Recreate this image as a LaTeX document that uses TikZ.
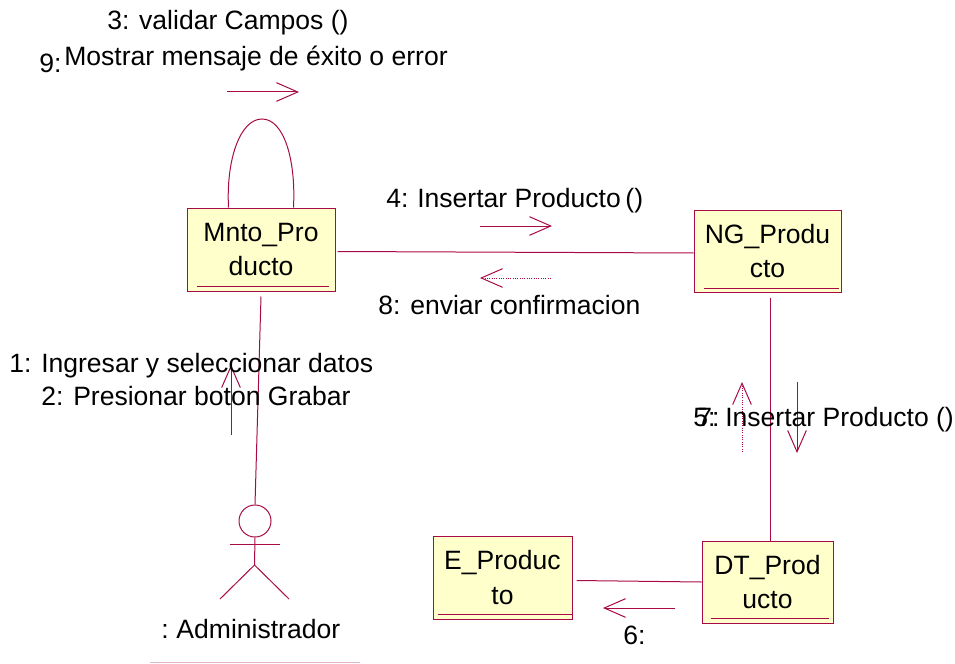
\documentclass[tikz,border=0pt]{standalone}
\usepackage{fontspec}
\setmainfont{Liberation Sans}
\usetikzlibrary{arrows.meta,calc}
\definecolor{umlline}{HTML}{A80A45}
\definecolor{umlfill}{HTML}{FFFFCB}
\tikzset{
  umlobj/.style={draw=umlline,fill=umlfill,line width=0.75pt,inner sep=0pt,align=center,
    font=\fontsize{19.9}{26}\selectfont},
  lbl/.style={anchor=base west,inner sep=0pt,font=\fontsize{19.9}{24}\selectfont},
  link/.style={draw=umlline,line width=0.75pt},
  msg/.style={draw=umlline,line width=0.75pt,-{Straight Barb[length=16pt,width=14pt,line width=0.75pt]}},
  ret/.style={msg,densely dotted},
}
\begin{document}
\begin{tikzpicture}[x=0.75pt,y=-0.75pt]
  \useasboundingbox (0,0) rectangle (955,663);
  %objects
  \node [umlobj,minimum width=111pt,minimum height=62.25pt] (mnto) at (261,249.5) {Mnto\_Pro\hspace{3pt}\\ducto\hspace{3pt}};
  \node [umlobj,minimum width=110.25pt,minimum height=61.5pt] (ng) at (767.5,251) {NG\_Produ\\cto};
  \node [umlobj,minimum width=98.25pt,minimum height=61.5pt] (dt) at (767.5,582) {DT\_Prod\\ucto};
  \node [umlobj,minimum width=104.25pt,minimum height=62.25pt] (ent) at (502.5,577.5) {E\_Produc\hspace{3pt}\\to};
  %underlines
  \draw [link] ($(mnto.south west)+(10,-5)$) -- ($(mnto.south east)+(-7,-5)$);
  \draw [link] ($(ng.south west)+(10,-4)$) -- ($(ng.south east)+(-3,-4)$);
  \draw [link] ($(dt.south west)+(9,-5)$) -- ($(dt.south east)+(-5,-5)$);
  \draw [link] ($(ent.south west)+(5,-5)$) -- ($(ent.south east)+(0,-5)$);
  %actor
  \node [draw=umlline,line width=0.75pt,circle,inner sep=0pt,minimum size=24pt] (head) at (255,521) {};
  \coordinate (hip) at (254.5,565);
  \coordinate (neck) at (254.5,544);
  \coordinate (handl) at (229.5,544);
  \coordinate (handr) at (279.5,544);
  \coordinate (footl) at (220,599);
  \coordinate (footr) at (289,599);
  \draw [link] (head.south) -- (hip) -- (footl);
  \draw [link] (hip) -- (footr);
  \draw [link] (handl) -- (handr);
  %links
  \draw [link] ($(mnto.south)+(0,5)$) -- (head.north);
  \draw [link] ($(mnto.east)+(2,2)$) -- ($(ng.west)+(0,2)$);
  \draw [link] ($(ng.south)+(3,5)$) -- ($(dt.north)+(3,0)$);
  \draw [link] (dt.west) -- ($(ent.east)+(4,3)$);
  \draw [link] ($(mnto.north west)+(42,0)$) .. controls (226,160) and (240,119) .. (262,119)
    .. controls (284,119) and (296,160) .. ($(mnto.north east)+(-42,0)$);
  %messages
  \coordinate (m1a) at (227,92);
  \coordinate (m1b) at (299,92);
  \coordinate (m2a) at (480,226);
  \coordinate (m2b) at (552,226);
  \coordinate (m3a) at (551,278);
  \coordinate (m3b) at (480,278);
  \coordinate (m4a) at (231,435);
  \coordinate (m4b) at (231,365);
  \coordinate (m5a) at (742,452);
  \coordinate (m5b) at (742,382);
  \coordinate (m6a) at (797,382);
  \coordinate (m6b) at (797,453);
  \coordinate (m7a) at (675,608);
  \coordinate (m7b) at (603,608);
  \draw [msg] (m1a) -- (m1b);
  \draw [msg] (m2a) -- (m2b);
  \draw [ret] (m3a) -- (m3b);
  \draw [msg] (m4a) -- (m4b);
  \draw [ret] (m5a) -- (m5b);
  \draw [msg] (m6a) -- (m6b);
  \draw [msg] (m7a) -- (m7b);
  %labels
  \node [lbl] (t3) at (107,30) {3: validar Campos ()};
  \node [lbl] (t9) at (39,73) {9:};
  \node [lbl] (t9b) at (64,66) {Mostrar mensaje de éxito o error};
  \node [lbl] (t4) at (386,207) {4:};
  \node [lbl] (t4b) at (417,207) {Insertar Producto\hspace{-2pt} ()};
  \node [lbl] (t8) at (378,314) {8:};
  \node [lbl] (t8b) at (410,314) {enviar confirmacion};
  \node [lbl] (t1) at (9,372) {1:};
  \node [lbl] (t1b) at (41,372) {Ingresar y seleccionar datos};
  \node [lbl] (t2) at (41,405) {2:};
  \node [lbl] (t2b) at (73,405) {Presionar boton Grabar};
  \node [lbl] (t5) at (693,426) {5:};
  \node [lbl] (t7) at (697,426) {7:};
  \node [lbl] (t5b) at (725,426) {Insertar Producto ()};
  \node [lbl] (t6) at (623,644) {6:};
  \node [lbl] (tadm) at (161,638) {:\hspace{-1.5pt} Administrador};
  \coordinate (ula) at (150,662);
  \coordinate (ulb) at (360,662);
  \draw [link,umlline!30] (ula) -- (ulb);
\end{tikzpicture}
\end{document}
